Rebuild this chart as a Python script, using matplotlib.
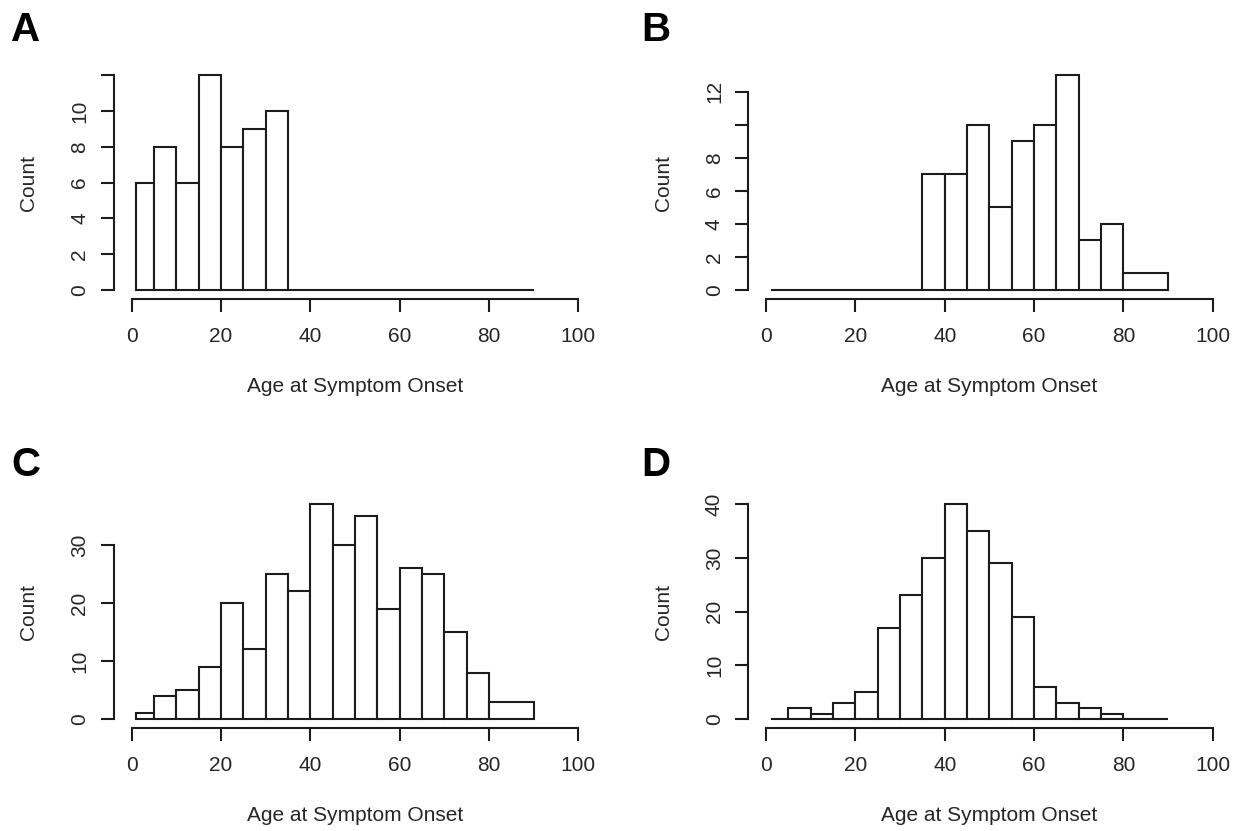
import numpy as np
import matplotlib
matplotlib.use('Agg')
import matplotlib.pyplot as plt

plt.rcParams['font.family'] = ['Liberation Sans', 'DejaVu Sans']

# bin edges (age at symptom onset)
breaks = [1, 5, 10, 15, 20, 25, 30, 35, 40, 45, 50, 55, 60, 65, 70, 75, 80, 90]

# counts per bin, one list per panel
counts_a = [6, 8, 6, 12, 8, 9, 10, 0, 0, 0, 0, 0, 0, 0, 0, 0, 0]
counts_b = [0, 0, 0, 0, 0, 0, 0, 7, 7, 10, 5, 9, 10, 13, 3, 4, 1]
counts_c = [1, 4, 5, 9, 20, 12, 25, 22, 37, 30, 35, 19, 26, 25, 15, 8, 3]
counts_d = [0, 2, 1, 3, 5, 17, 23, 30, 40, 35, 29, 19, 6, 3, 2, 1, 0]

# y ticks and their labels (R drops some labels)
yticks_a = [0, 2, 4, 6, 8, 10, 12]
ylabels_a = ['0', '2', '4', '6', '8', '10', '']
yticks_b = [0, 2, 4, 6, 8, 10, 12]
ylabels_b = ['0', '2', '4', '6', '8', '', '12']
yticks_c = [0, 10, 20, 30]
ylabels_c = ['0', '10', '20', '30']
yticks_d = [0, 10, 20, 30, 40]
ylabels_d = ['0', '10', '20', '30', '40']

xticks = [0, 20, 40, 60, 80, 100]

W, H = 1245, 831
fig = plt.figure(figsize=(W / 100, H / 100), dpi=100)

# panel boxes in pixels: left, bottom(from top); shared width/height
ax_w, ax_h = 482.4, 232.0
panels = [
    ('A', 113.8, 298.6, counts_a, yticks_a, ylabels_a, (26, 30)),
    ('B', 748.2, 298.6, counts_b, yticks_b, ylabels_b, (656, 30)),
    ('C', 113.8, 727.6, counts_c, yticks_c, ylabels_c, (26, 465)),
    ('D', 748.2, 727.6, counts_d, yticks_d, ylabels_d, (656, 465)),
]

lw = 1.5
ink = '#1c1c1c'
edges = np.array(breaks)
lefts = edges[:-1]
widths = np.diff(edges)

for letter, left, bottom, counts, yt, yl, lpos in panels:
    ax = fig.add_axes([left / W, (H - bottom) / H, ax_w / W, ax_h / H])
    ymax = max(counts)
    ax.bar(lefts, counts, width=widths, align='edge', facecolor='white',
           edgecolor=ink, linewidth=lw)
    # R-style axis range: 4% padding around xlim=c(0,100), ylim=c(0,max)
    ax.set_xlim(-4, 104)
    ax.set_ylim(-0.04 * ymax, 1.04 * ymax)

    for s in ['top', 'right']:
        ax.spines[s].set_visible(False)
    for s in ['left', 'bottom']:
        ax.spines[s].set_linewidth(lw)
        ax.spines[s].set_color(ink)
    ax.spines['bottom'].set_bounds(0, 100)
    ax.spines['left'].set_bounds(yt[0], yt[-1])

    ax.set_xticks(xticks)
    ax.set_xticklabels([str(v) for v in xticks])
    ax.set_yticks(yt)
    ax.set_yticklabels(yl, rotation=90, va='center')
    ax.tick_params(axis='both', length=9.5, width=lw, color=ink,
                   labelsize=15, labelcolor='#262626')
    ax.tick_params(axis='x', pad=11)
    ax.tick_params(axis='y', pad=8)

    cx = left + ax_w / 2
    fig.text(cx / W, 1 - (bottom + 88) / H, 'Age at Symptom Onset',
             ha='center', va='center', fontsize=15, color='#262626')
    fig.text((left - 85) / W, 1 - (bottom - ax_h / 2) / H, 'Count',
             ha='center', va='center', rotation=90, fontsize=15, color='#262626')
    fig.text(lpos[0] / W, 1 - lpos[1] / H, letter, ha='center', va='center',
             fontsize=29, fontweight='bold', color='black')

fig.savefig('out.png', dpi=100, facecolor='white')
